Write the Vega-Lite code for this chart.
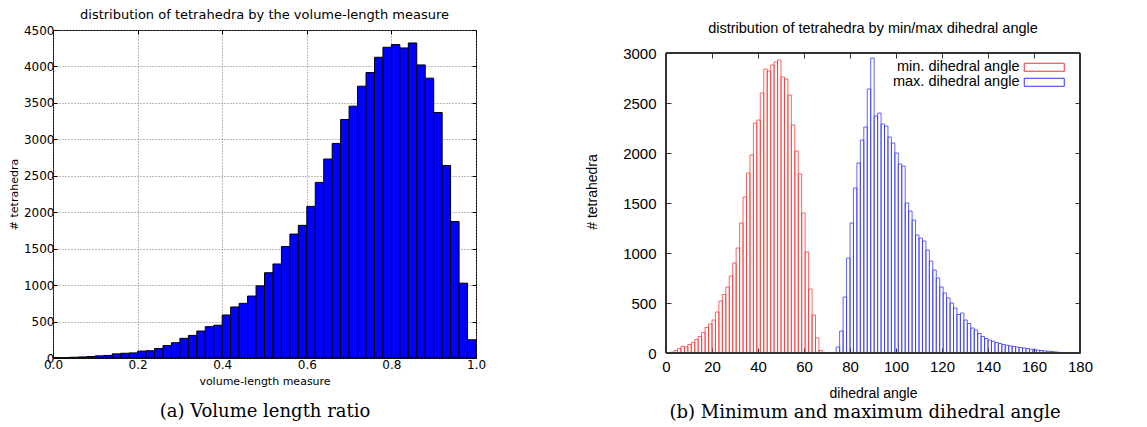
{
  "$schema": "https://vega.github.io/schema/vega-lite/v6.json",
  "background": "white",
  "padding": {"left": 7, "top": 8, "right": 0, "bottom": 0},
  "spacing": 98,
  "resolve": {"scale": {"stroke": "independent"}, "legend": {"stroke": "independent"}},
  "datasets": {
    "vol": [
      {"start": 0.00, "end": 0.02, "count": 5},
      {"start": 0.02, "end": 0.04, "count": 5},
      {"start": 0.04, "end": 0.06, "count": 10},
      {"start": 0.06, "end": 0.08, "count": 15},
      {"start": 0.08, "end": 0.10, "count": 20},
      {"start": 0.10, "end": 0.12, "count": 30},
      {"start": 0.12, "end": 0.14, "count": 35},
      {"start": 0.14, "end": 0.16, "count": 57},
      {"start": 0.16, "end": 0.18, "count": 65},
      {"start": 0.18, "end": 0.20, "count": 70},
      {"start": 0.20, "end": 0.22, "count": 95},
      {"start": 0.22, "end": 0.24, "count": 100},
      {"start": 0.24, "end": 0.26, "count": 130},
      {"start": 0.26, "end": 0.28, "count": 170},
      {"start": 0.28, "end": 0.30, "count": 210},
      {"start": 0.30, "end": 0.32, "count": 270},
      {"start": 0.32, "end": 0.34, "count": 310},
      {"start": 0.34, "end": 0.36, "count": 370},
      {"start": 0.36, "end": 0.38, "count": 430},
      {"start": 0.38, "end": 0.40, "count": 450},
      {"start": 0.40, "end": 0.42, "count": 590},
      {"start": 0.42, "end": 0.44, "count": 700},
      {"start": 0.44, "end": 0.46, "count": 750},
      {"start": 0.46, "end": 0.48, "count": 850},
      {"start": 0.48, "end": 0.50, "count": 990},
      {"start": 0.50, "end": 0.52, "count": 1170},
      {"start": 0.52, "end": 0.54, "count": 1290},
      {"start": 0.54, "end": 0.56, "count": 1530},
      {"start": 0.56, "end": 0.58, "count": 1700},
      {"start": 0.58, "end": 0.60, "count": 1820},
      {"start": 0.60, "end": 0.62, "count": 2080},
      {"start": 0.62, "end": 0.64, "count": 2409},
      {"start": 0.64, "end": 0.66, "count": 2730},
      {"start": 0.66, "end": 0.68, "count": 2944},
      {"start": 0.68, "end": 0.70, "count": 3272},
      {"start": 0.70, "end": 0.72, "count": 3455},
      {"start": 0.72, "end": 0.74, "count": 3729},
      {"start": 0.74, "end": 0.76, "count": 3916},
      {"start": 0.76, "end": 0.78, "count": 4126},
      {"start": 0.78, "end": 0.80, "count": 4263},
      {"start": 0.80, "end": 0.82, "count": 4300},
      {"start": 0.82, "end": 0.84, "count": 4254},
      {"start": 0.84, "end": 0.86, "count": 4322},
      {"start": 0.86, "end": 0.88, "count": 4021},
      {"start": 0.88, "end": 0.90, "count": 3839},
      {"start": 0.90, "end": 0.92, "count": 3368},
      {"start": 0.92, "end": 0.94, "count": 2642},
      {"start": 0.94, "end": 0.96, "count": 1873},
      {"start": 0.96, "end": 0.98, "count": 1027},
      {"start": 0.98, "end": 1.00, "count": 250}
    ],
    "dih": [
      {"series": "min. dihedral angle", "start": 2, "end": 3.5, "count": 8},
      {"series": "min. dihedral angle", "start": 3.5, "end": 5, "count": 25},
      {"series": "min. dihedral angle", "start": 5, "end": 6.5, "count": 45},
      {"series": "min. dihedral angle", "start": 6.5, "end": 8, "count": 65},
      {"series": "min. dihedral angle", "start": 8, "end": 9.5, "count": 60},
      {"series": "min. dihedral angle", "start": 9.5, "end": 11, "count": 85},
      {"series": "min. dihedral angle", "start": 11, "end": 12.5, "count": 105},
      {"series": "min. dihedral angle", "start": 12.5, "end": 14, "count": 135},
      {"series": "min. dihedral angle", "start": 14, "end": 15.5, "count": 165},
      {"series": "min. dihedral angle", "start": 15.5, "end": 17, "count": 205},
      {"series": "min. dihedral angle", "start": 17, "end": 18.5, "count": 255},
      {"series": "min. dihedral angle", "start": 18.5, "end": 20, "count": 290},
      {"series": "min. dihedral angle", "start": 20, "end": 21.5, "count": 330},
      {"series": "min. dihedral angle", "start": 21.5, "end": 23, "count": 410},
      {"series": "min. dihedral angle", "start": 23, "end": 24.5, "count": 520},
      {"series": "min. dihedral angle", "start": 24.5, "end": 26, "count": 585},
      {"series": "min. dihedral angle", "start": 26, "end": 27.5, "count": 660},
      {"series": "min. dihedral angle", "start": 27.5, "end": 29, "count": 770},
      {"series": "min. dihedral angle", "start": 29, "end": 30.5, "count": 900},
      {"series": "min. dihedral angle", "start": 30.5, "end": 32, "count": 1050},
      {"series": "min. dihedral angle", "start": 32, "end": 33.5, "count": 1300},
      {"series": "min. dihedral angle", "start": 33.5, "end": 35, "count": 1560},
      {"series": "min. dihedral angle", "start": 35, "end": 36.5, "count": 1800},
      {"series": "min. dihedral angle", "start": 36.5, "end": 38, "count": 1980},
      {"series": "min. dihedral angle", "start": 38, "end": 39.5, "count": 2300},
      {"series": "min. dihedral angle", "start": 39.5, "end": 41, "count": 2330},
      {"series": "min. dihedral angle", "start": 41, "end": 42.5, "count": 2600},
      {"series": "min. dihedral angle", "start": 42.5, "end": 44, "count": 2840},
      {"series": "min. dihedral angle", "start": 44, "end": 45.5, "count": 2820},
      {"series": "min. dihedral angle", "start": 45.5, "end": 47, "count": 2880},
      {"series": "min. dihedral angle", "start": 47, "end": 48.5, "count": 2910},
      {"series": "min. dihedral angle", "start": 48.5, "end": 50, "count": 2930},
      {"series": "min. dihedral angle", "start": 50, "end": 51.5, "count": 2760},
      {"series": "min. dihedral angle", "start": 51.5, "end": 53, "count": 2740},
      {"series": "min. dihedral angle", "start": 53, "end": 54.5, "count": 2580},
      {"series": "min. dihedral angle", "start": 54.5, "end": 56, "count": 2280},
      {"series": "min. dihedral angle", "start": 56, "end": 57.5, "count": 2020},
      {"series": "min. dihedral angle", "start": 57.5, "end": 59, "count": 1790},
      {"series": "min. dihedral angle", "start": 59, "end": 60.5, "count": 1400},
      {"series": "min. dihedral angle", "start": 60.5, "end": 62, "count": 1010},
      {"series": "min. dihedral angle", "start": 62, "end": 63.5, "count": 640},
      {"series": "min. dihedral angle", "start": 63.5, "end": 65, "count": 380},
      {"series": "min. dihedral angle", "start": 65, "end": 66.5, "count": 150},
      {"series": "min. dihedral angle", "start": 66.5, "end": 68, "count": 25},
      {"series": "max. dihedral angle", "start": 72.5, "end": 74, "count": 5},
      {"series": "max. dihedral angle", "start": 74, "end": 75.5, "count": 60},
      {"series": "max. dihedral angle", "start": 75.5, "end": 77, "count": 220},
      {"series": "max. dihedral angle", "start": 77, "end": 78.5, "count": 560},
      {"series": "max. dihedral angle", "start": 78.5, "end": 80, "count": 950},
      {"series": "max. dihedral angle", "start": 80, "end": 81.5, "count": 1300},
      {"series": "max. dihedral angle", "start": 81.5, "end": 83, "count": 1650},
      {"series": "max. dihedral angle", "start": 83, "end": 84.5, "count": 1900},
      {"series": "max. dihedral angle", "start": 84.5, "end": 86, "count": 2130},
      {"series": "max. dihedral angle", "start": 86, "end": 87.5, "count": 2260},
      {"series": "max. dihedral angle", "start": 87.5, "end": 89, "count": 2640},
      {"series": "max. dihedral angle", "start": 89, "end": 90.5, "count": 2950},
      {"series": "max. dihedral angle", "start": 90.5, "end": 92, "count": 2370},
      {"series": "max. dihedral angle", "start": 92, "end": 93.5, "count": 2400},
      {"series": "max. dihedral angle", "start": 93.5, "end": 95, "count": 2290},
      {"series": "max. dihedral angle", "start": 95, "end": 96.5, "count": 2270},
      {"series": "max. dihedral angle", "start": 96.5, "end": 98, "count": 2160},
      {"series": "max. dihedral angle", "start": 98, "end": 99.5, "count": 2100},
      {"series": "max. dihedral angle", "start": 99.5, "end": 101, "count": 2000},
      {"series": "max. dihedral angle", "start": 101, "end": 102.5, "count": 1890},
      {"series": "max. dihedral angle", "start": 102.5, "end": 104, "count": 1870},
      {"series": "max. dihedral angle", "start": 104, "end": 105.5, "count": 1500},
      {"series": "max. dihedral angle", "start": 105.5, "end": 107, "count": 1420},
      {"series": "max. dihedral angle", "start": 107, "end": 108.5, "count": 1330},
      {"series": "max. dihedral angle", "start": 108.5, "end": 110, "count": 1180},
      {"series": "max. dihedral angle", "start": 110, "end": 111.5, "count": 1150},
      {"series": "max. dihedral angle", "start": 111.5, "end": 113, "count": 1120},
      {"series": "max. dihedral angle", "start": 113, "end": 114.5, "count": 1030},
      {"series": "max. dihedral angle", "start": 114.5, "end": 116, "count": 920},
      {"series": "max. dihedral angle", "start": 116, "end": 117.5, "count": 830},
      {"series": "max. dihedral angle", "start": 117.5, "end": 119, "count": 750},
      {"series": "max. dihedral angle", "start": 119, "end": 120.5, "count": 660},
      {"series": "max. dihedral angle", "start": 120.5, "end": 122, "count": 600},
      {"series": "max. dihedral angle", "start": 122, "end": 123.5, "count": 550},
      {"series": "max. dihedral angle", "start": 123.5, "end": 125, "count": 500},
      {"series": "max. dihedral angle", "start": 125, "end": 126.5, "count": 450},
      {"series": "max. dihedral angle", "start": 126.5, "end": 128, "count": 385},
      {"series": "max. dihedral angle", "start": 128, "end": 129.5, "count": 400},
      {"series": "max. dihedral angle", "start": 129.5, "end": 131, "count": 330},
      {"series": "max. dihedral angle", "start": 131, "end": 132.5, "count": 295},
      {"series": "max. dihedral angle", "start": 132.5, "end": 134, "count": 250},
      {"series": "max. dihedral angle", "start": 134, "end": 135.5, "count": 230},
      {"series": "max. dihedral angle", "start": 135.5, "end": 137, "count": 195},
      {"series": "max. dihedral angle", "start": 137, "end": 138.5, "count": 165},
      {"series": "max. dihedral angle", "start": 138.5, "end": 140, "count": 145},
      {"series": "max. dihedral angle", "start": 140, "end": 141.5, "count": 130},
      {"series": "max. dihedral angle", "start": 141.5, "end": 143, "count": 117},
      {"series": "max. dihedral angle", "start": 143, "end": 144.5, "count": 105},
      {"series": "max. dihedral angle", "start": 144.5, "end": 146, "count": 95},
      {"series": "max. dihedral angle", "start": 146, "end": 147.5, "count": 85},
      {"series": "max. dihedral angle", "start": 147.5, "end": 149, "count": 78},
      {"series": "max. dihedral angle", "start": 149, "end": 150.5, "count": 72},
      {"series": "max. dihedral angle", "start": 150.5, "end": 152, "count": 65},
      {"series": "max. dihedral angle", "start": 152, "end": 153.5, "count": 60},
      {"series": "max. dihedral angle", "start": 153.5, "end": 155, "count": 55},
      {"series": "max. dihedral angle", "start": 155, "end": 156.5, "count": 50},
      {"series": "max. dihedral angle", "start": 156.5, "end": 158, "count": 45},
      {"series": "max. dihedral angle", "start": 158, "end": 159.5, "count": 38},
      {"series": "max. dihedral angle", "start": 159.5, "end": 161, "count": 33},
      {"series": "max. dihedral angle", "start": 161, "end": 162.5, "count": 29},
      {"series": "max. dihedral angle", "start": 162.5, "end": 164, "count": 25},
      {"series": "max. dihedral angle", "start": 164, "end": 165.5, "count": 21},
      {"series": "max. dihedral angle", "start": 165.5, "end": 167, "count": 18},
      {"series": "max. dihedral angle", "start": 167, "end": 168.5, "count": 15},
      {"series": "max. dihedral angle", "start": 168.5, "end": 170, "count": 11},
      {"series": "max. dihedral angle", "start": 170, "end": 171.5, "count": 7},
      {"series": "max. dihedral angle", "start": 171.5, "end": 173, "count": 3}
    ]
  },
  "hconcat": [
    {
      "title": {"text": "(a) Volume length ratio", "orient": "bottom", "anchor": "middle", "frame": "bounds", "dx": 18, "font": "DejaVu Serif", "fontSize": 18, "fontWeight": "normal", "color": "black", "offset": 16},
      "vconcat": [
        {
          "title": {"text": "distribution of tetrahedra by the volume-length measure", "anchor": "middle", "font": "DejaVu Sans", "fontSize": 13, "fontWeight": "normal", "color": "black", "offset": 2},
          "width": 423,
          "height": 328,
          "data": {"name": "vol"},
          "view": {"stroke": "black", "strokeWidth": 1},
          "layer": [
            {
              "mark": {"type": "bar", "fill": "#0000ff", "stroke": "black", "strokeWidth": 1},
              "encoding": {
                "x": {"field": "start", "type": "quantitative", "scale": {"domain": [0, 1], "nice": false},
                  "axis": {"orient": "bottom", "values": [0, 0.2, 0.4, 0.6, 0.8, 1.0], "format": ".1f", "title": "volume-length measure", "titleFont": "DejaVu Sans", "titleFontSize": 11, "titleFontWeight": "normal", "titleColor": "black", "titlePadding": 5, "labelFont": "DejaVu Sans", "labelFontSize": 12, "labelColor": "black", "labelPadding": 5, "tickSize": -4, "tickColor": "black", "domain": false, "grid": true, "gridDash": [1, 2], "gridColor": "#777", "labelFlush": false}},
                "x2": {"field": "end"},
                "y": {"field": "count", "type": "quantitative", "scale": {"domain": [0, 4500], "nice": false},
                  "axis": {"orient": "left", "values": [0, 500, 1000, 1500, 2000, 2500, 3000, 3500, 4000, 4500], "format": "d", "title": "# tetrahedra", "titleFont": "DejaVu Sans", "titleFontSize": 11, "titleFontWeight": "normal", "titleColor": "black", "titlePadding": 4, "labelFont": "DejaVu Sans", "labelFontSize": 12, "labelColor": "black", "labelPadding": 3, "tickSize": -4, "tickColor": "black", "domain": false, "grid": true, "gridDash": [1, 2], "gridColor": "#777", "labelFlush": false}},
                "y2": {"datum": 0}
              }
            },
            {
              "mark": {"type": "bar", "opacity": 0},
              "encoding": {
                "x": {"field": "start", "type": "quantitative", "axis": {"orient": "top", "values": [0, 0.2, 0.4, 0.6, 0.8, 1.0], "labels": false, "title": null, "tickSize": -4, "tickColor": "black", "domain": false, "grid": false}},
                "x2": {"field": "end"},
                "y": {"field": "count", "type": "quantitative", "axis": {"orient": "right", "values": [0, 500, 1000, 1500, 2000, 2500, 3000, 3500, 4000, 4500], "labels": false, "title": null, "tickSize": -4, "tickColor": "black", "domain": false, "grid": false}},
                "y2": {"datum": 0}
              }
            }
          ]
        }
      ]
    },
    {
      "title": {"text": "(b) Minimum and maximum dihedral angle", "orient": "bottom", "anchor": "middle", "frame": "bounds", "dx": 26, "font": "DejaVu Serif", "fontSize": 18, "fontWeight": "normal", "color": "black", "offset": 4},
      "resolve": {"scale": {"stroke": "independent"}, "legend": {"stroke": "independent"}},
      "vconcat": [
        {
          "title": {"text": "distribution of tetrahedra by min/max dihedral angle", "anchor": "middle", "font": "Liberation Sans", "fontSize": 14.5, "fontWeight": "normal", "color": "black", "offset": -6},
          "width": 414,
          "height": 323,
          "data": {"name": "dih"},
          "view": {"stroke": null},
          "layer": [
            {
              "mark": {"type": "bar", "fillOpacity": 0, "fill": "white", "strokeWidth": 0.75},
              "encoding": {
                "x": {"field": "start", "type": "quantitative", "scale": {"domain": [0, 180], "nice": false},
                  "axis": {"orient": "bottom", "values": [0, 20, 40, 60, 80, 100, 120, 140, 160, 180], "title": "dihedral angle", "titleFont": "Liberation Sans", "titleFontSize": 14, "titleFontWeight": "normal", "titleColor": "black", "titlePadding": 12, "labelFont": "Liberation Sans", "labelFontSize": 15, "labelColor": "black", "labelPadding": 11, "tickSize": -5, "tickColor": "#333", "domain": false, "grid": false, "labelFlush": false}},
                "x2": {"field": "end"},
                "y": {"field": "count", "type": "quantitative", "scale": {"domain": [0, 3230], "nice": false},
                  "axis": {"orient": "left", "values": [0, 500, 1000, 1500, 2000, 2500, 3000], "format": "d", "title": "# tetrahedra", "titleFont": "Liberation Sans", "titleFontSize": 14, "titleFontWeight": "normal", "titleColor": "black", "titlePadding": 23, "labelFont": "Liberation Sans", "labelFontSize": 15, "labelColor": "black", "labelPadding": 15, "tickSize": -5, "tickColor": "#333", "domain": false, "grid": false, "labelFlush": false}},
                "y2": {"datum": 0},
                "stroke": {"field": "series", "type": "nominal",
                  "scale": {"domain": ["min. dihedral angle", "max. dihedral angle"], "range": ["#ff3030", "#3030ff"]},
                  "legend": {"title": null, "orient": "none", "legendX": 371, "legendY": 30, "padding": 0, "symbolType": "M-5,-1H5V1H-5Z", "symbolSize": 64, "symbolStrokeWidth": 1, "symbolFillColor": "transparent", "labelAlign": "right", "labelOffset": -32, "labelFont": "Liberation Sans", "labelFontSize": 14.5, "labelColor": "black", "rowPadding": 0}}
              }
            },
            {
              "mark": {"type": "rect", "fill": null, "fillOpacity": 0, "stroke": "#333", "strokeWidth": 1},
              "encoding": {
                "x": {"datum": 0, "type": "quantitative", "axis": null},
                "x2": {"datum": 180},
                "y": {"datum": 0, "type": "quantitative", "axis": null},
                "y2": {"datum": 3000}
              }
            },
            {
              "mark": {"type": "bar", "opacity": 0},
              "encoding": {
                "x": {"field": "start", "type": "quantitative", "axis": {"orient": "top", "offset": -23, "values": [0, 20, 40, 60, 80, 100, 120, 140, 160, 180], "labels": false, "title": null, "tickSize": -5, "tickColor": "#333", "domain": false, "grid": false}},
                "x2": {"field": "end"},
                "y": {"field": "count", "type": "quantitative", "axis": {"orient": "right", "values": [0, 500, 1000, 1500, 2000, 2500, 3000], "labels": false, "title": null, "tickSize": -5, "tickColor": "#333", "domain": false, "grid": false}},
                "y2": {"datum": 0}
              }
            }
          ]
        }
      ]
    }
  ],
  "config": {"view": {"stroke": null}}
}
